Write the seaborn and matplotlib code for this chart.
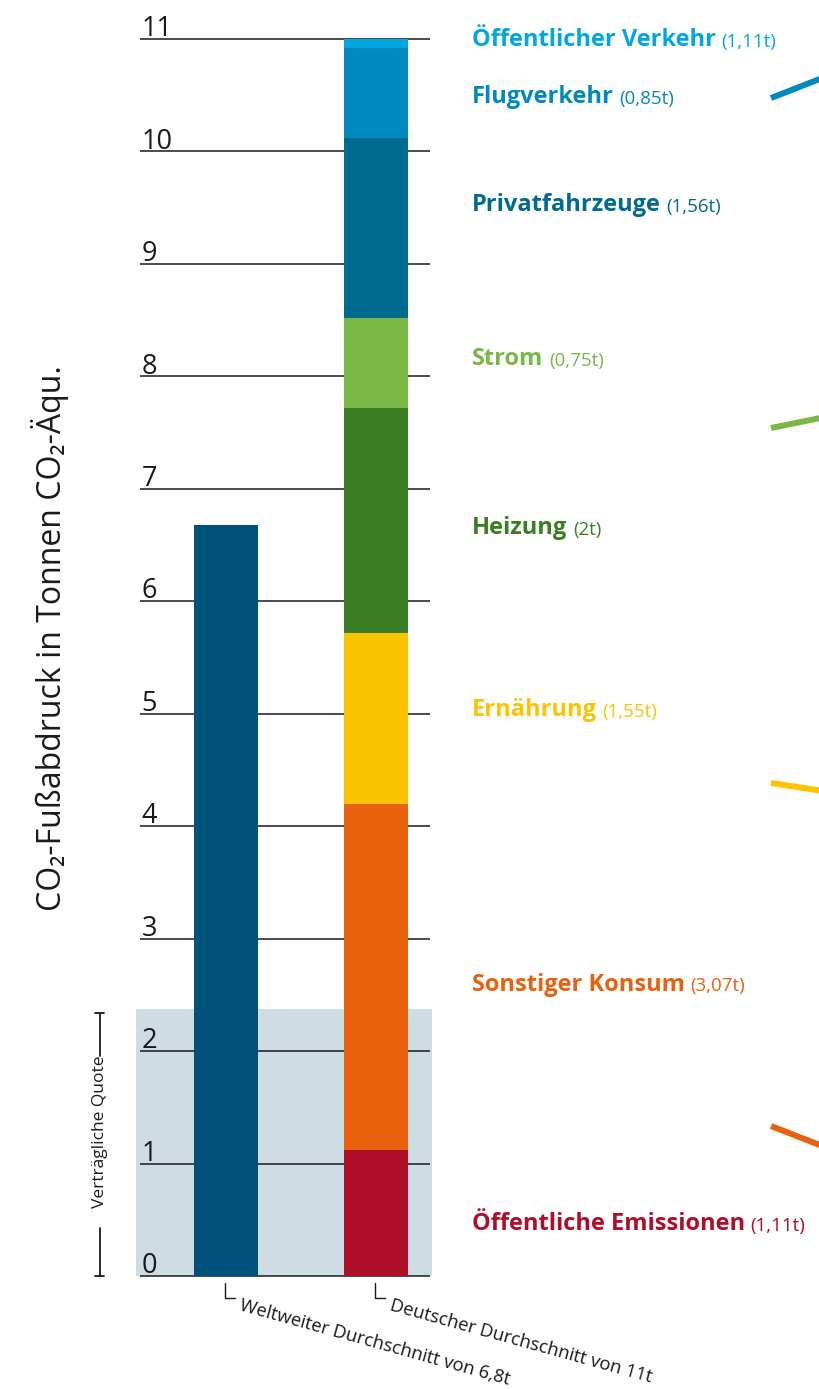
import matplotlib.pyplot as plt
import seaborn as sns
import numpy as np
from matplotlib.lines import Line2D

# data
bars = ["Welt", "Deutschland"]
world_value = 6.68
sectors = ["Öffentliche Emissionen", "Sonstiger Konsum", "Ernährung", "Heizung",
           "Strom", "Privatfahrzeuge", "Flugverkehr", "Öffentlicher Verkehr"]
sector_labels = ["(1,11t)", "(3,07t)", "(1,55t)", "(2t)",
                 "(0,75t)", "(1,56t)", "(0,85t)", "(1,11t)"]
sector_heights = [1.12, 3.08, 1.52, 2.0, 0.80, 1.60, 0.80, 0.08]
sector_colors = ["#ae0e27", "#e9600d", "#fcc300", "#3b7d24",
                 "#7ab745", "#006a8f", "#0088c0", "#00a6e2"]
label_y = [0.46, 2.59, 5.03, 6.65, 8.15, 9.52, 10.48, 10.99]
quota = 2.37
yticks = list(range(0, 12))

sns.set_style("white")
plt.rcParams["font.family"] = ["Open Sans", "DejaVu Sans"]

fig = plt.figure(figsize=(8.19, 13.89), dpi=100)
ax = fig.add_axes([136 / 819, 113 / 1389, 296 / 819, 1237 / 1389])

# compatible quota
ax.axhspan(0, quota, color="#cfdce3", zorder=0, lw=0)

# grid lines
ax.hlines(yticks, -0.573, 1.36, color="#1a1a1a", lw=1.1, zorder=1, clip_on=False)
for t in yticks:
    ax.annotate(str(t), xy=(-0.573, t), xytext=(1, 2), textcoords="offset points",
                ha="left", va="baseline", fontsize=19.5, color="#1a1a1a",
                annotation_clip=False)

# world bar
sns.barplot(x=["Welt"], y=[world_value], order=bars, color="#00527a",
            saturation=1, width=0.427, errorbar=None, linewidth=0, zorder=3, ax=ax)

# stacked german bar (draw cumulative totals from largest to smallest)
tops = np.cumsum(sector_heights)
for top, col in list(zip(tops, sector_colors))[::-1]:
    sns.barplot(x=["Deutschland"], y=[top], order=bars, color=col,
                saturation=1, width=0.427, errorbar=None, linewidth=0, zorder=3, ax=ax)

ax.set_xlim(-0.6, 1.373)
ax.set_ylim(0, 11)
ax.set_xticks([])
ax.set_yticks([])
ax.set_xlabel("")
ax.set_ylabel("")
sns.despine(ax=ax, left=True, bottom=True)

# sector labels
for name, val, y, col in zip(sectors, sector_labels, label_y, sector_colors):
    t = ax.text(1.64, y, name, color=col, fontsize=17, fontweight="bold",
                ha="left", va="center")
    ax.annotate(val, xy=(1, 0), xycoords=t, xytext=(4, 1), textcoords="offset points",
                color=col, fontsize=13.5, ha="left", va="bottom")

# y label
fig.text(50 / 819, 1 - 638 / 1389, "CO₂-Fußabdruck in Tonnen CO₂-Äqu.",
         rotation=90, ha="center", va="center", fontsize=23, color="#1a1a1a")

# quota bracket
bx = -0.84
top_b = 2.34
ax.plot([bx, bx], [top_b, 1.96], color="#1a1a1a", lw=1.3, clip_on=False)
ax.plot([bx, bx], [0.43, 0], color="#1a1a1a", lw=1.3, clip_on=False)
ax.plot([bx - 0.03, bx + 0.03], [top_b] * 2, color="#1a1a1a", lw=1.3, clip_on=False)
ax.plot([bx - 0.03, bx + 0.03], [0, 0], color="#1a1a1a", lw=1.3, clip_on=False)
ax.text(bx, 1.28, "Verträgliche Quote", rotation=90, ha="center", va="center",
        fontsize=12.5, color="#1a1a1a")

# bottom captions
captions = ["Weltweiter Durchschnitt von 6,8t", "Deutscher Durchschnitt von 11t"]
for i, cap in enumerate(captions):
    x0 = i - 0.007
    ax.plot([x0, x0, x0 + 0.07], [-0.06, -0.2, -0.2], color="#1a1a1a", lw=1.0,
            clip_on=False)
    ax.text(x0 + 0.1, -0.26, cap, rotation=-15.5, rotation_mode="anchor",
            ha="left", va="center", fontsize=13.2, color="#1a1a1a")

# clipped connector strokes at right edge
strokes = [((771, 98), (830, 75), "#0088c0"),
           ((771, 428), (830, 416), "#7ab745"),
           ((771, 783), (830, 792), "#fcc300"),
           ((771, 1126), (830, 1149), "#e9600d")]
for (x1, y1), (x2, y2), col in strokes:
    fig.add_artist(Line2D([x1 / 819, x2 / 819], [1 - y1 / 1389, 1 - y2 / 1389],
                          color=col, lw=4.3, solid_capstyle="butt"))

fig.savefig("out.png", dpi=100)
